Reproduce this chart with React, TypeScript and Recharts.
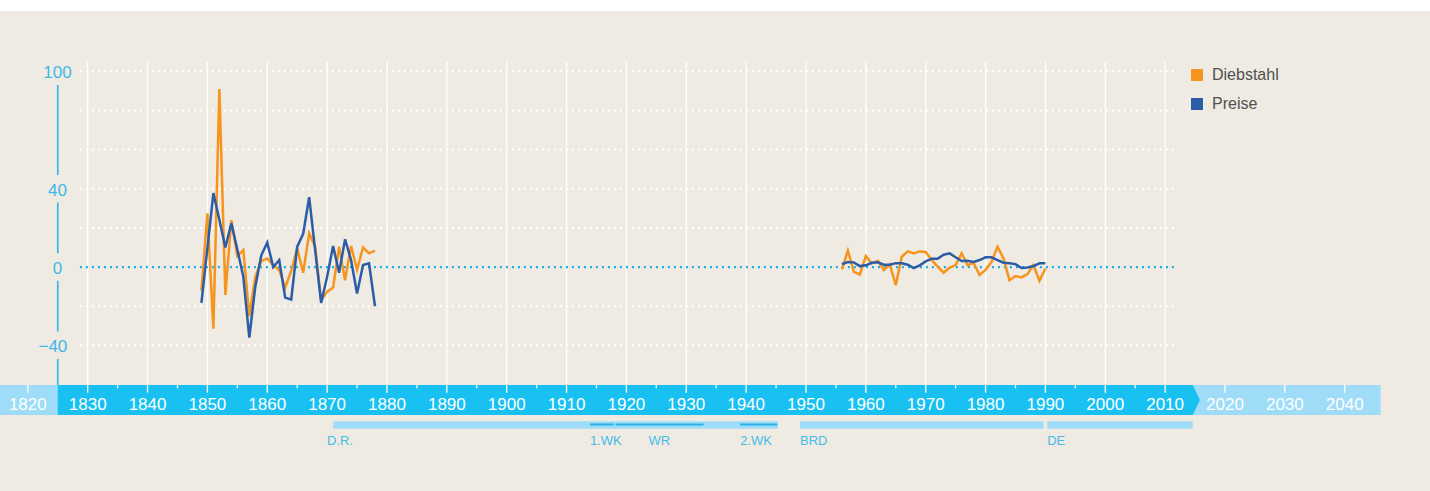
import React from "react";
import {
  LineChart,
  Line,
  XAxis,
  YAxis,
  ReferenceLine,
  ReferenceArea,
  ReferenceDot,
  Legend,
} from "recharts";

// Veränderung gegenüber Vorjahr in %, 1849-1878 und 1956-1990
const EARLY_START = 1849;
const DIEBSTAHL_EARLY = [
  -12, 27.5, -31.5, 91, -14.3, 24, 5.6, 8.7, -25, -5, 3, 4.4, 1, -1.5, -10.4,
  -2, 9.6, -2.9, 17.3, 10.4, -17, -12.6, -10.4, 10.4, -6.7, 10.8, -1.4, 10, 7,
  8.4,
];
const PREISE_EARLY = [
  -18.3, 9.7, 37.8, 24, 10, 22.4, 9, -5, -36, -10, 6, 12.5, 0, 3.6, -15.6,
  -16.6, 10.4, 17, 35.7, 8.7, -18.3, -5, 10.8, -2.9, 14.2, 3.6, -13.5, 1, 1.9,
  -20,
];

const LATE_START = 1956;
const DIEBSTAHL_LATE = [
  -1.2, 8.4, -2.4, -3.8, 5.6, 1.9, 3.2, -1.5, 1.4, -9.2, 5.3, 8, 7, 8, 7.7,
  3.6, 0.2, -2.9, -0.3, 1, 7, 1, 2.2, -4.1, -1.5, 2.7, 10.4, 4.4, -6.7, -4.6,
  -5.3, -3.6, 1, -7, -0.7,
];
const PREISE_LATE = [
  1.5, 2.6, 2.4, 0.5, 0.9, 2.2, 2.4, 1.2, 1.2, 2, 1.9, 1.2, -0.5, 0.9, 2.9,
  4.3, 4.3, 6.3, 7, 5, 3.1, 3.2, 2.6, 3.6, 5, 5, 3.6, 2.2, 1.9, 1.5, -0.5,
  -0.2, 0.5, 1.9, 1.9,
];

const Y_TICKS = [100, 40, 0, -40];
const GRID_VALUES = [100, 80, 60, 40, 20, -20, -40];
const YEAR_TICKS = [
  1820, 1830, 1835, 1840, 1845, 1850, 1855, 1860, 1865, 1870, 1875, 1880, 1885,
  1890, 1895, 1900, 1905, 1910, 1915, 1920, 1925, 1930, 1935, 1940, 1945, 1950,
  1955, 1960, 1965, 1970, 1975, 1980, 1985, 1990, 1995, 2000, 2005, 2010, 2020,
  2030, 2040,
];
const GRID_DECADES = [
  1830, 1840, 1850, 1860, 1870, 1880, 1890, 1900, 1910, 1920, 1930, 1940, 1950,
  1960, 1970, 1980, 1990, 2000, 2010,
];

// Zeitleiste
const ERA_START = [1871, 1949, 1990.3];
const ERA_END = [1945.3, 1989.7, 2014.6];
const PHASE_START = [1913.9, 1918.2, 1939];
const PHASE_END = [1917.9, 1932.9, 1945.2];
const LABEL_NAMES = ["D.R.", "1.WK", "WR", "2.WK", "BRD", "DE"];
const LABEL_YEARS = [1870, 1913.9, 1925.5, 1939, 1949, 1990.3];
const LABEL_ANCHORS = ["start", "start", "middle", "start", "start", "start"];

const X_DOMAIN = [1815.35, 2054.25];
const Y_DOMAIN = [-96, 104.75];
const AXIS_YEAR = 1825;
const BAR_TOP = -60.3;
const BAR_BOTTOM = -75.6;
const ERA_TOP = -78.7;
const ERA_BOTTOM = -82.6;
const PHASE_Y = -80.4;
const LABEL_Y = -91;
const GRID_FROM = 1828.7;
const GRID_TO = 2011.7;
const AXIS_GAP = 7;

const FONT = "'Liberation Sans', Arial, Helvetica, sans-serif";
const BG = "#efebe2";
const CYAN = "#18c1f1";
const LIGHT = "#9fdcf7";
const AXIS_BLUE = "#3cb8e7";
const ORANGE = "#f7941d";
const BLUE = "#2b5ca8";

const data = [
  ...DIEBSTAHL_EARLY.map((d, i) => ({
    year: EARLY_START + i,
    diebstahl: d,
    preise: PREISE_EARLY[i],
  })),
  { year: 1917, diebstahl: null, preise: null },
  ...DIEBSTAHL_LATE.map((d, i) => ({
    year: LATE_START + i,
    diebstahl: d,
    preise: PREISE_LATE[i],
  })),
];

const axisSegments: [number, number][] = Y_TICKS.map((t, i) => [
  t - AXIS_GAP,
  i < Y_TICKS.length - 1 ? Y_TICKS[i + 1] + AXIS_GAP : BAR_TOP,
]);

function YearTick(props: any) {
  const { x, y, payload } = props;
  const v = payload.value;
  const decade = v % 10 === 0;
  const top = y - 70;
  return (
    <g>
      <line
        x1={x}
        x2={x}
        y1={top}
        y2={top + (decade ? 7.7 : 3.3)}
        stroke="#fff"
        strokeWidth={1.3}
      />
      {decade && (
        <text
          x={x}
          y={y - 45}
          textAnchor="middle"
          fill="#fff"
          fontSize={17}
          fontFamily={FONT}
        >
          {v}
        </text>
      )}
    </g>
  );
}

function ValueTick(props: any) {
  const { y, payload } = props;
  const v = payload.value;
  const axisX = 57.5;
  const neg = v < 0;
  return (
    <text
      x={neg ? axisX + String(Math.abs(v)).length * 4.9 : axisX}
      y={y}
      dy={7}
      textAnchor={neg ? "end" : "middle"}
      fill={AXIS_BLUE}
      fontSize={17}
      fontFamily={FONT}
    >
      {neg ? `\u2212${Math.abs(v)}` : v}
    </text>
  );
}

function ArrowBar(props: any) {
  const { x, y, width, height } = props;
  const tip = 7;
  const pts = [
    [x, y],
    [x + width - tip, y],
    [x + width, y + height / 2],
    [x + width - tip, y + height],
    [x, y + height],
  ]
    .map((p) => p.join(","))
    .join(" ");
  return <polygon points={pts} fill={CYAN} />;
}

function EraLabel(props: any) {
  const { viewBox, text, anchor } = props;
  return (
    <text
      x={viewBox.x}
      y={viewBox.y}
      textAnchor={anchor}
      fill="#45bce9"
      fontSize={13}
      fontFamily={FONT}
    >
      {text}
    </text>
  );
}

function LegendBox(props: any) {
  const { payload } = props;
  return (
    <div style={{ fontFamily: FONT, fontSize: 16, color: "#505050" }}>
      {(payload || []).map((p: any) => (
        <div
          key={p.value}
          style={{ display: "flex", alignItems: "center", height: 29 }}
        >
          <span
            style={{
              width: 12,
              height: 12,
              background: p.color,
              marginRight: 9,
              display: "inline-block",
            }}
          />
          {p.value}
        </div>
      ))}
    </div>
  );
}

export default function App() {
  return (
    <div
      style={{
        position: "absolute",
        left: 0,
        top: 0,
        width: 1430,
        height: 491,
        background: "#fff",
      }}
    >
      <div style={{ marginTop: 11, height: 480, background: BG }}>
        <LineChart
          width={1430}
          height={480}
          data={data}
          margin={{ top: 51, right: 0, bottom: 0, left: 0 }}
        >
          <XAxis
            dataKey="year"
            type="number"
            domain={X_DOMAIN}
            ticks={YEAR_TICKS}
            interval={0}
            height={36}
            axisLine={false}
            tickLine={false}
            tickSize={0}
            tickMargin={0}
            tick={<YearTick />}
            allowDataOverflow
          />
          <YAxis
            type="number"
            domain={Y_DOMAIN}
            ticks={Y_TICKS}
            interval={0}
            width={60}
            mirror
            axisLine={false}
            tickLine={false}
            tick={<ValueTick />}
            allowDataOverflow
          />

          {GRID_DECADES.map((d) => (
            <ReferenceLine
              key={`v${d}`}
              segment={[
                { x: d, y: Y_DOMAIN[1] },
                { x: d, y: BAR_TOP },
              ]}
              stroke="#fff"
              strokeWidth={1.3}
            />
          ))}
          {GRID_VALUES.map((v) => (
            <ReferenceLine
              key={`h${v}`}
              segment={[
                { x: GRID_FROM, y: v },
                { x: GRID_TO, y: v },
              ]}
              stroke="#fff"
              strokeWidth={2}
              strokeDasharray="2 4"
            />
          ))}
          <ReferenceLine
            segment={[
              { x: GRID_FROM, y: 0 },
              { x: GRID_TO, y: 0 },
            ]}
            stroke="#1aaee8"
            strokeWidth={2.2}
            strokeDasharray="2 4"
          />
          {axisSegments.map(([a, b]) => (
            <ReferenceLine
              key={`a${a}`}
              segment={[
                { x: AXIS_YEAR, y: a },
                { x: AXIS_YEAR, y: b },
              ]}
              stroke={AXIS_BLUE}
              strokeWidth={1.7}
            />
          ))}

          <ReferenceArea
            x1={X_DOMAIN[0]}
            x2={2046}
            y1={BAR_TOP}
            y2={BAR_BOTTOM}
            fill={LIGHT}
            fillOpacity={1}
            stroke="none"
          />
          <ReferenceArea
            x1={AXIS_YEAR}
            x2={2015.8}
            y1={BAR_TOP}
            y2={BAR_BOTTOM}
            shape={<ArrowBar />}
          />
          {ERA_START.map((s, i) => (
            <ReferenceArea
              key={`e${s}`}
              x1={s}
              x2={ERA_END[i]}
              y1={ERA_TOP}
              y2={ERA_BOTTOM}
              fill={LIGHT}
              fillOpacity={1}
              stroke="none"
            />
          ))}
          {PHASE_START.map((s, i) => (
            <ReferenceLine
              key={`p${s}`}
              segment={[
                { x: s, y: PHASE_Y },
                { x: PHASE_END[i], y: PHASE_Y },
              ]}
              stroke="#27b3ea"
              strokeWidth={2}
            />
          ))}
          {LABEL_NAMES.map((n, i) => (
            <ReferenceDot
              key={`l${n}`}
              x={LABEL_YEARS[i]}
              y={LABEL_Y}
              r={0}
              fill="none"
              stroke="none"
              label={<EraLabel text={n} anchor={LABEL_ANCHORS[i]} />}
            />
          ))}

          <Line
            type="linear"
            dataKey="diebstahl"
            name="Diebstahl"
            stroke={ORANGE}
            strokeWidth={2.5}
            dot={false}
            activeDot={false}
            isAnimationActive={false}
          />
          <Line
            type="linear"
            dataKey="preise"
            name="Preise"
            stroke={BLUE}
            strokeWidth={2.5}
            dot={false}
            activeDot={false}
            isAnimationActive={false}
          />
          <Legend
            layout="vertical"
            align="center"
            verticalAlign="middle"
            wrapperStyle={{ left: 1191, top: 49.5, width: "auto" }}
            content={<LegendBox />}
          />
        </LineChart>
      </div>
    </div>
  );
}
